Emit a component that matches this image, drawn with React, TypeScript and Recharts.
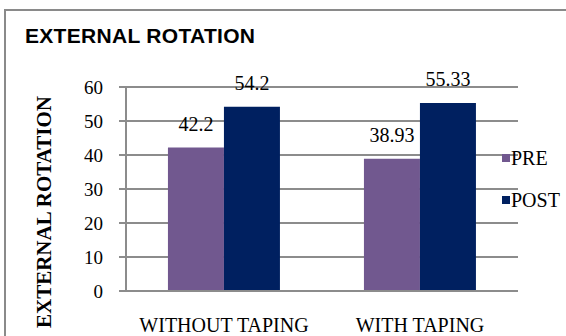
import { Bar, BarChart, CartesianGrid, LabelList, Legend, XAxis, YAxis } from "recharts";

// Range of motion, external rotation, before and after the programme.
const CATEGORIES = ["WITHOUT TAPING", "WITH TAPING"];
const PRE = [42.2, 38.93];
const POST = [54.2, 55.33];
const Y_TICKS = [0, 10, 20, 30, 40, 50, 60];

const SERIES = [
  { key: "pre", label: "PRE", colour: "#71588F" },
  { key: "post", label: "POST", colour: "#002060" },
];

const SERIF = '"Liberation Serif", "Times New Roman", serif';
const GRID = "#8c8c8c";

const rows = CATEGORIES.map((name, i) => ({ name, pre: PRE[i], post: POST[i] }));

function SideLegend() {
  return (
    <div style={{ fontFamily: SERIF, fontSize: 20, color: "#000" }}>
      {SERIES.map((s) => (
        <div key={s.key} style={{ display: "flex", alignItems: "center", height: 42 }}>
          <span style={{ width: 8, height: 8, background: s.colour, marginRight: 1 }} />
          <span style={{ lineHeight: "20px" }}>{s.label}</span>
        </div>
      ))}
    </div>
  );
}

function AxisTitle(props: any) {
  const vb = props.viewBox || { x: 66, y: 87, width: 60, height: 204 };
  const cx = vb.x - 22.5;
  const cy = vb.y + vb.height / 2 + 23;
  return (
    <text
      x={cx}
      y={cy}
      transform={`rotate(-90 ${cx} ${cy})`}
      textAnchor="middle"
      dominantBaseline="central"
      fontFamily={SERIF}
      fontWeight="bold"
      fontSize={21}
      fill="#000"
    >
      EXTERNAL ROTATION
    </text>
  );
}

export default function App() {
  return (
    <div
      style={{
        position: "fixed",
        left: 0,
        top: 0,
        width: 566,
        height: 336,
        overflow: "hidden",
        background: "#fff",
      }}
    >
      <div
        style={{
          position: "absolute",
          left: 4,
          top: 9,
          width: 700,
          height: 500,
          borderTop: "2px solid #8a8a8a",
          borderLeft: "2px solid #8a8a8a",
        }}
      />
      <div
        style={{
          position: "absolute",
          left: 25,
          top: 25,
          fontFamily: '"Liberation Sans", Arial, sans-serif',
          fontWeight: "bold",
          fontSize: 21,
          lineHeight: "21px",
          letterSpacing: 0.3,
          color: "#000",
          whiteSpace: "nowrap",
        }}
      >
        EXTERNAL ROTATION
      </div>
      <div style={{ position: "absolute", left: 0, top: 0 }}>
        <BarChart
          width={566}
          height={336}
          data={rows}
          margin={{ top: 87, right: 48, bottom: 15, left: 66 }}
          barCategoryGap="21.4%"
          barGap={0}
        >
          <CartesianGrid vertical={false} stroke={GRID} strokeWidth={2} />
          <XAxis
            dataKey="name"
            height={30}
            tickLine={false}
            tickSize={0}
            tickMargin={27}
            axisLine={{ stroke: GRID, strokeWidth: 2 }}
            tick={{ fontFamily: SERIF, fontSize: 20, fill: "#000" }}
          />
          <YAxis
            width={60}
            domain={[0, 60]}
            ticks={Y_TICKS}
            interval={0}
            tickSize={7}
            tickMargin={16}
            tickLine={{ stroke: GRID, strokeWidth: 2 }}
            axisLine={{ stroke: GRID, strokeWidth: 2 }}
            tick={{ fontFamily: SERIF, fontSize: 19, fill: "#000" }}
            label={{ content: AxisTitle }}
          />
          <Legend
            layout="horizontal"
            verticalAlign="middle"
            align="center"
            content={SideLegend}
            wrapperStyle={{ left: 502, top: 137, width: 70, height: 84 }}
          />
          {SERIES.map((s) => (
            <Bar key={s.key} dataKey={s.key} name={s.label} fill={s.colour} isAnimationActive={false}>
              <LabelList
                dataKey={s.key}
                position="top"
                offset={17}
                fill="#000"
                fontFamily={SERIF}
                fontSize={20}
              />
            </Bar>
          ))}
        </BarChart>
      </div>
    </div>
  );
}
